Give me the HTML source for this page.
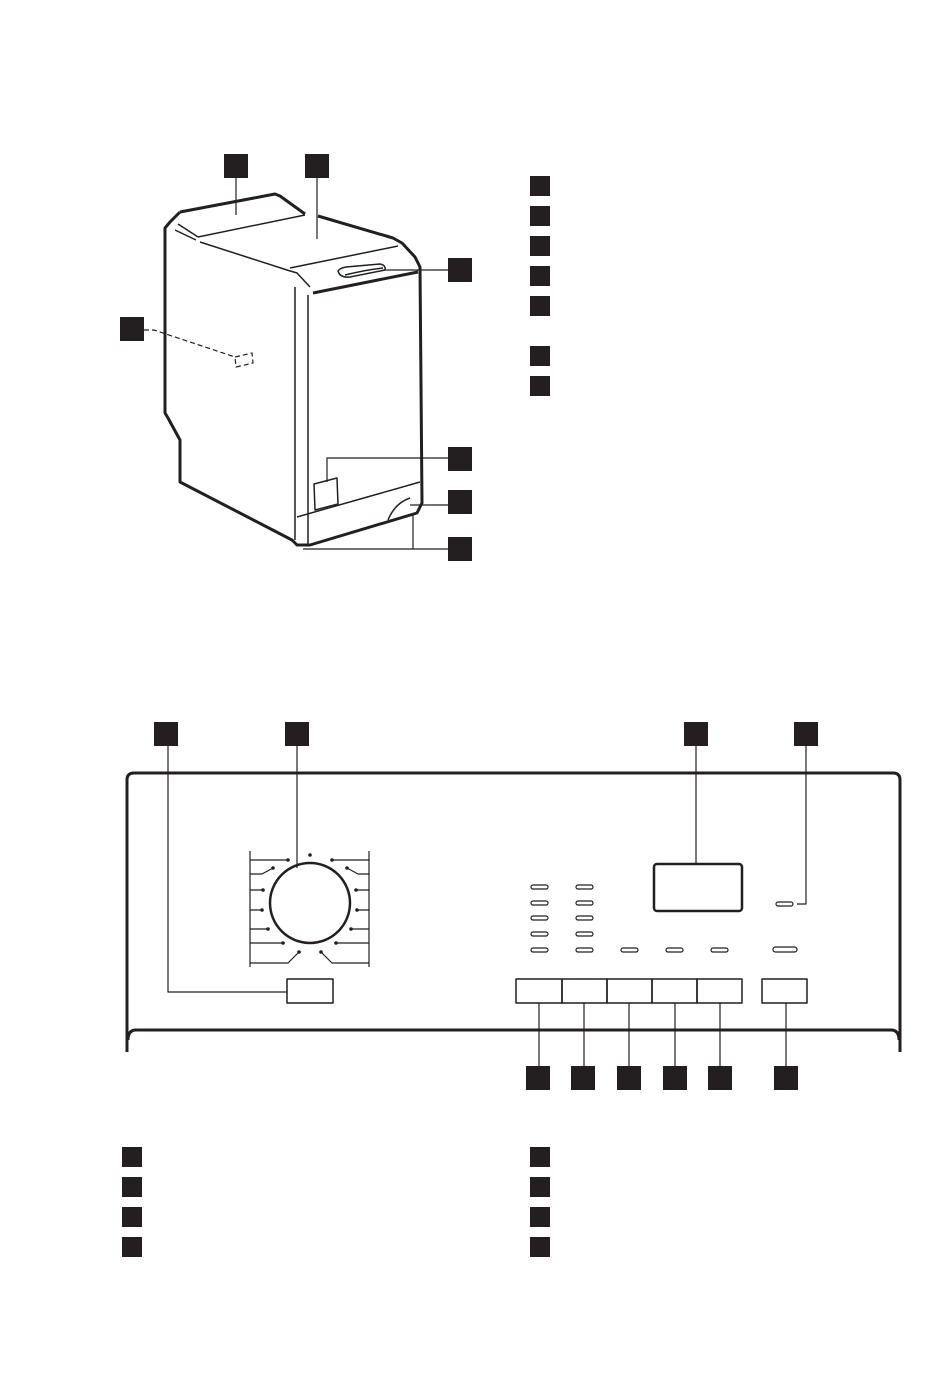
<!DOCTYPE html>
<html><head><meta charset="utf-8"><style>html,body{margin:0;padding:0;background:#fff}svg{display:block}</style></head>
<body>
<svg width="950" height="1374" viewBox="0 0 950 1374" xmlns="http://www.w3.org/2000/svg">
<g fill="#231f20">
<rect x="224" y="154" width="24" height="24"/><rect x="305" y="154" width="24" height="24"/>
<rect x="448" y="258" width="24" height="24"/><rect x="120" y="317" width="24" height="24"/>
<rect x="448" y="447" width="24" height="24"/><rect x="448" y="490" width="24" height="24"/>
<rect x="448" y="537" width="24" height="24"/>
<rect x="530" y="176" width="20" height="20"/><rect x="530" y="206" width="20" height="20"/>
<rect x="530" y="236" width="20" height="20"/><rect x="530" y="266" width="20" height="20"/>
<rect x="530" y="296" width="20" height="20"/><rect x="530" y="346" width="20" height="20"/>
<rect x="530" y="376" width="20" height="20"/>
<rect x="154" y="722" width="24" height="24"/><rect x="285" y="722" width="24" height="24"/>
<rect x="684" y="722" width="24" height="24"/><rect x="794" y="722" width="24" height="24"/>
<rect x="526" y="1066" width="24" height="24"/><rect x="571" y="1066" width="24" height="24"/>
<rect x="617" y="1066" width="24" height="24"/><rect x="663" y="1066" width="24" height="24"/>
<rect x="708" y="1066" width="24" height="24"/><rect x="774" y="1066" width="24" height="24"/>
<rect x="122" y="1147" width="20" height="20"/><rect x="122" y="1177" width="20" height="20"/>
<rect x="122" y="1207" width="20" height="20"/><rect x="122" y="1237" width="20" height="20"/>
<rect x="530" y="1147" width="20" height="20"/><rect x="530" y="1177" width="20" height="20"/>
<rect x="530" y="1207" width="20" height="20"/><rect x="530" y="1237" width="20" height="20"/>
</g>
<g fill="none" stroke="#231f20" stroke-linejoin="round">
<!-- machine outline -->
<path stroke-width="3" d="M180,212 L275,194 L280,196 L305,214 M318,216 L393,238 L402,243 L415,257 L420,267 L422,503 L417,513 L310,545 L297,545 L292,540 L180,482 L180,440 L168,418 L165,413 L165,228 L170,222 L180,212"/>
<path stroke-width="3" d="M313,293 L418,272"/>
<path stroke-width="1.5" d="M198,237 L305,215 M200,242 L287,270 L297,273 L310,287 M290,268 L398,246 M295,287 L295,540 M308,295 L308,545 M297,517 L420,482 M178,224 L198,237 M175,230 L196,240 M388,520 Q395,503 410,498"/>
<path stroke-width="1.5" d="M338,271 Q340,268 346,267 L380,264 Q386,265 385,270 L350,277 Q340,278 338,271 Z M345,275 Q365,270 383,268"/>
<path stroke-width="1.5" d="M314,484 L337,478 L338,504 L315,510 Z"/>
<!-- leaders -->
<path stroke-width="1.2" d="M236,178 V215 M317,178 V239 M385,270 H448 M327,482 V458 H448 M410,505 H448 M303,549 H448 M413,513 V549"/>
<path stroke-width="1.2" stroke-dasharray="5,3" d="M144,330 H154 L235,357 M235,357 L252,353 L253,363 L236,367 Z"/>
<!-- panel -->
<path stroke-width="3" d="M127,1052 V780 Q127,773 134,773 H893 Q900,773 900,780 V1052"/>
<path stroke-width="3" d="M128,1040 Q128,1030 136,1030 H891 Q899,1030 899,1040"/>
<rect x="654" y="864" width="88" height="47" rx="3" stroke-width="2.5"/>
<circle cx="310" cy="903" r="40" stroke-width="2.5"/>
<g stroke-width="1.2">
<path d="M250,851 V967 M369,851 V967"/>
<path d="M250,860 H288 M250,874 H262 L273,868 M250,890 H263 M250,910 H262 M250,929 H268 M250,943 H283 M250,963 H288 L299,952"/>
<path d="M369,860 H332 M369,874 H358 L347,868 M369,890 H356 M369,910 H357 M369,929 H351 M369,943 H336 M369,963 H332 L321,952"/>
<path d="M168,746 V992 H287 M297,746 V868 M696,746 V864 M806,746 V904 H797"/>
<path d="M539,1003 V1066 M584,1003 V1066 M629,1003 V1066 M675,1003 V1066 M720,1003 V1066 M786,1003 V1066"/>
</g>
<g stroke-width="1.5">
<rect x="287" y="979" width="46" height="24"/>
<rect x="516" y="979" width="46" height="24"/><rect x="562" y="979" width="45" height="24"/>
<rect x="607" y="979" width="45" height="24"/><rect x="652" y="979" width="45" height="24"/>
<rect x="697" y="979" width="45" height="24"/><rect x="762" y="979" width="45" height="24"/>
</g>
<g stroke-width="1.2">
<rect x="531" y="885" width="17" height="4" rx="2"/><rect x="576" y="885" width="17" height="4" rx="2"/>
<rect x="531" y="901" width="17" height="4" rx="2"/><rect x="576" y="901" width="17" height="4" rx="2"/>
<rect x="531" y="916" width="17" height="4" rx="2"/><rect x="576" y="916" width="17" height="4" rx="2"/>
<rect x="531" y="932" width="17" height="4" rx="2"/><rect x="576" y="932" width="17" height="4" rx="2"/>
<rect x="531" y="948" width="17" height="4" rx="2"/><rect x="576" y="948" width="17" height="4" rx="2"/>
<rect x="621" y="948" width="17" height="4" rx="2"/><rect x="666" y="948" width="17" height="4" rx="2"/>
<rect x="711" y="948" width="17" height="4" rx="2"/><rect x="773" y="947" width="24" height="5" rx="2.5"/>
<rect x="776" y="902" width="17" height="4" rx="2"/>
</g>
</g>
<g fill="#231f20">
<circle cx="310" cy="855" r="1.8"/>
<circle cx="288" cy="860" r="1.8"/><circle cx="273" cy="868" r="1.8"/><circle cx="263" cy="890" r="1.8"/><circle cx="262" cy="910" r="1.8"/><circle cx="268" cy="929" r="1.8"/><circle cx="283" cy="943" r="1.8"/><circle cx="299" cy="952" r="1.8"/>
<circle cx="332" cy="860" r="1.8"/><circle cx="347" cy="868" r="1.8"/><circle cx="356" cy="890" r="1.8"/><circle cx="357" cy="910" r="1.8"/><circle cx="351" cy="929" r="1.8"/><circle cx="336" cy="943" r="1.8"/><circle cx="321" cy="952" r="1.8"/>
</g>
</svg>
</body></html>
